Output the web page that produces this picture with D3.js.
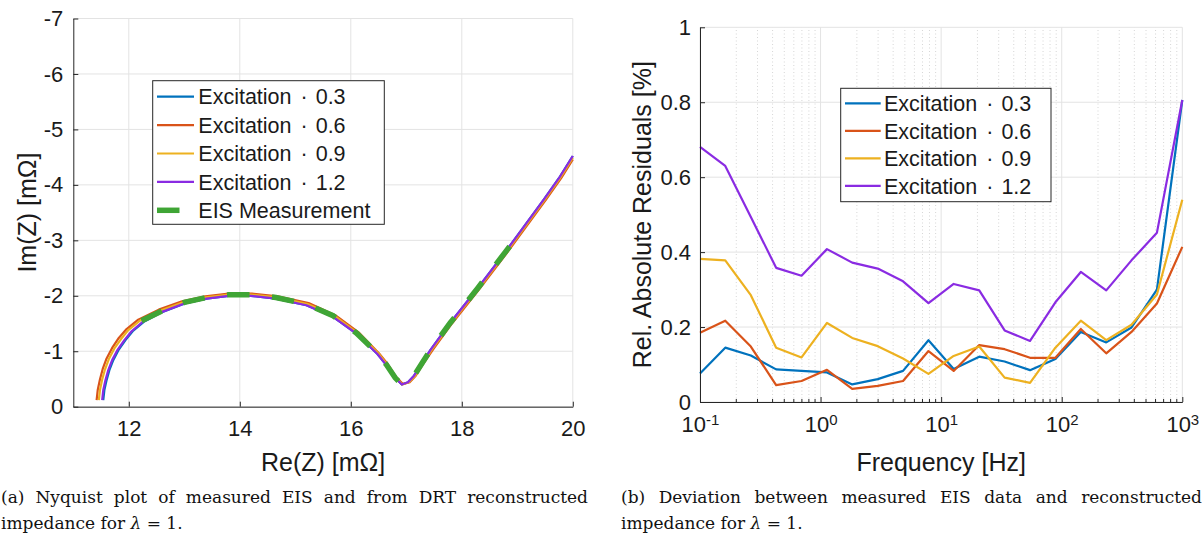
<!DOCTYPE html>
<html><head><meta charset="utf-8">
<script src="https://cdn.jsdelivr.net/npm/d3@7"></script>
<style>
body{margin:0;background:#fff}
svg{display:block}
text{font-family:"Liberation Sans",Arial,sans-serif;fill:#1a1a1a}
.cap text{font-family:"DejaVu Serif","Liberation Serif",serif;fill:#111}
</style>
</head><body>
<svg id="c" width="1204" height="534"></svg>
<script>
// ---------- DATA ----------
const seriesLabels = ["Excitation", "Excitation", "Excitation", "Excitation"];
const seriesFactors = ["0.3", "0.6", "0.9", "1.2"];
const measLabel = "EIS Measurement";
const seriesColors = ["#0072BD", "#D95319", "#EDB120", "#8A2BE2"];
const measColor = "#3FA535";

// (a) Nyquist: Re / Im in mOhm
const re03 = [11.54,11.56,11.60,11.65,11.72,11.82,11.94,12.07,12.27,12.61,13.01,13.40,13.80,14.20,14.65,15.20,15.68,16.10,16.48,16.64,16.80,16.92,17.03,17.14,17.28,17.44,17.79,18.29,18.77,19.10,19.48,19.75,20.00];
const im03 = [-0.12,-0.30,-0.48,-0.66,-0.84,-1.03,-1.20,-1.36,-1.53,-1.71,-1.86,-1.95,-2.00,-2.00,-1.95,-1.83,-1.62,-1.32,-0.95,-0.75,-0.52,-0.40,-0.44,-0.56,-0.78,-1.03,-1.51,-2.14,-2.77,-3.22,-3.74,-4.12,-4.52];
const re06 = [11.42,11.44,11.48,11.53,11.60,11.70,11.82,11.96,12.17,12.54,12.96,13.38,13.80,14.22,14.68,15.24,15.72,16.14,16.51,16.67,16.82,16.94,17.06,17.17,17.31,17.48,17.83,18.33,18.81,19.14,19.52,19.79,20.00];
const im06 = [-0.12,-0.30,-0.49,-0.68,-0.87,-1.06,-1.24,-1.40,-1.57,-1.75,-1.90,-1.99,-2.04,-2.04,-1.99,-1.87,-1.65,-1.34,-0.96,-0.76,-0.53,-0.41,-0.44,-0.56,-0.78,-1.03,-1.51,-2.14,-2.77,-3.22,-3.74,-4.12,-4.46];
const re09 = [11.46,11.48,11.52,11.57,11.64,11.74,11.86,11.99,12.20,12.56,12.97,13.39,13.80,14.21,14.67,15.22,15.70,16.12,16.50,16.66,16.81,16.93,17.05,17.16,17.30,17.46,17.81,18.31,18.79,19.12,19.50,19.77,20.00];
const im09 = [-0.12,-0.30,-0.49,-0.67,-0.86,-1.05,-1.22,-1.38,-1.55,-1.73,-1.88,-1.97,-2.02,-2.02,-1.97,-1.85,-1.64,-1.33,-0.96,-0.75,-0.52,-0.40,-0.44,-0.56,-0.78,-1.03,-1.51,-2.14,-2.77,-3.22,-3.74,-4.12,-4.49];
const re12 = [11.52,11.54,11.58,11.63,11.70,11.80,11.92,12.05,12.25,12.60,13.00,13.40,13.80,14.20,14.65,15.20,15.68,16.10,16.48,16.64,16.80,16.92,17.03,17.14,17.28,17.44,17.79,18.29,18.77,19.10,19.48,19.75,20.00];
const im12 = [-0.12,-0.30,-0.48,-0.66,-0.84,-1.03,-1.20,-1.36,-1.53,-1.71,-1.86,-1.95,-2.00,-2.00,-1.95,-1.83,-1.62,-1.32,-0.95,-0.75,-0.52,-0.40,-0.44,-0.56,-0.78,-1.03,-1.51,-2.14,-2.77,-3.22,-3.74,-4.12,-4.52];
const reEIS = [12.23,12.60,13.00,13.40,13.80,14.20,14.65,15.20,15.68,16.10,16.48,16.64,16.80,16.90,17.03,17.14,17.28,17.44,17.79,18.29,18.77,18.95];
const imEIS = [-1.55,-1.73,-1.88,-1.97,-2.02,-2.02,-1.97,-1.85,-1.64,-1.33,-0.96,-0.76,-0.52,-0.42,-0.45,-0.56,-0.78,-1.03,-1.51,-2.14,-2.77,-3.00];

// (b) residuals [%] vs frequency [Hz]
const freq = [0.1,0.162,0.264,0.428,0.695,1.13,1.83,2.98,4.83,7.85,12.7,20.7,33.6,54.6,88.6,144,234,379,616,1000];
const res03 = [0.076,0.145,0.124,0.087,0.083,0.079,0.047,0.061,0.083,0.165,0.088,0.121,0.108,0.085,0.115,0.187,0.159,0.199,0.300,0.806];
const res06 = [0.185,0.217,0.148,0.045,0.056,0.086,0.035,0.043,0.056,0.136,0.083,0.152,0.141,0.118,0.118,0.195,0.130,0.187,0.263,0.414];
const res09 = [0.382,0.378,0.285,0.145,0.119,0.211,0.171,0.149,0.116,0.075,0.123,0.148,0.065,0.051,0.145,0.217,0.165,0.206,0.287,0.540];
const res12 = [0.681,0.630,0.494,0.358,0.337,0.408,0.372,0.356,0.322,0.264,0.315,0.298,0.191,0.163,0.266,0.347,0.298,0.378,0.452,0.806];

// ticks
const xTicksA = [12,14,16,18,20];
const yTicksA = [0,-1,-2,-3,-4,-5,-6,-7];
const yTickLabelsA = ["0","-1","-2","-3","-4","-5","-6","-7"];
const xTicksB = [0.1,1,10,100,1000];
const xTickExpB = ["-1","0","1","2","3"];
const yTicksB = [0,0.2,0.4,0.6,0.8,1];
const yTickLabelsB = ["0","0.2","0.4","0.6","0.8","1"];

const captionA1 = "(a) Nyquist plot of measured EIS and from DRT reconstructed";
const captionB1 = "(b) Deviation between measured EIS data and reconstructed";

// ---------- DRAW ----------
const svg = d3.select("#c");
const AX = "#262626", GRID = "#e3e3e3";

function styleAxis(g){
  g.select(".domain").attr("stroke", AX).attr("stroke-width", 1);
  g.selectAll(".tick line").attr("stroke", AX);
  g.selectAll(".tick text").attr("font-size", 22).attr("fill", "#1a1a1a")
    .attr("font-family", '"Liberation Sans",Arial,sans-serif');
}

// ===== Panel A =====
const xA = d3.scaleLinear().domain([11, 20]).range([73.3, 572.8]);
const yA = d3.scaleLinear().domain([0, -7]).range([406.7, 18.5]);
const gA = svg.append("g");

gA.append("g").selectAll("line").data(xTicksA).join("line")
  .attr("x1", d => xA(d)).attr("x2", d => xA(d)).attr("y1", yA(0)).attr("y2", yA(-7))
  .attr("stroke", GRID);
gA.append("g").selectAll("line").data(yTicksA).join("line")
  .attr("y1", d => yA(d)).attr("y2", d => yA(d)).attr("x1", xA(11)).attr("x2", xA(20))
  .attr("stroke", GRID);

const lineA = d3.line().x(d => xA(d[0])).y(d => yA(d[1]));
const nyq = [[re03, im03], [re06, im06], [re09, im09], [re12, im12]];
nyq.forEach((s, i) => {
  const pts = s[0].map((r, j) => [r, s[1][j]]);
  gA.append("path").datum(pts).attr("d", lineA).attr("fill", "none")
    .attr("stroke", seriesColors[i]).attr("stroke-width", 2.2).attr("stroke-linejoin", "round");
});
gA.append("path").datum(reEIS.map((r, j) => [r, imEIS[j]])).attr("d", lineA)
  .attr("fill", "none").attr("stroke", measColor).attr("stroke-width", 5.5)
  .attr("stroke-dasharray", "22.5,22.5");

gA.append("g").attr("transform", `translate(0,${yA(0)})`)
  .call(d3.axisBottom(xA).tickValues(xTicksA).tickSizeInner(-5).tickSizeOuter(0).tickPadding(14).tickFormat(d3.format("d")))
  .call(styleAxis);
gA.append("g").attr("transform", `translate(${xA(11)},0)`)
  .call(d3.axisLeft(yA).tickValues(yTicksA).tickSizeInner(-5).tickSizeOuter(0).tickPadding(10)
    .tickFormat((d, i) => yTickLabelsA[i]))
  .call(styleAxis);

gA.append("text").attr("x", (xA(11) + xA(20)) / 2).attr("y", 471).attr("text-anchor", "middle")
  .attr("font-size", 25).text("Re(Z) [mΩ]");
gA.append("text").attr("transform", `translate(36,${(yA(0) + yA(-7)) / 2}) rotate(-90)`)
  .attr("text-anchor", "middle").attr("font-size", 25).text("Im(Z) [mΩ]");

const legA = gA.append("g");
legA.append("rect").attr("x", 152.7).attr("y", 80.7).attr("width", 231.6).attr("height", 143.6)
  .attr("fill", "#fff").attr("stroke", AX).attr("stroke-width", 1);
function legendEntry(g, x0, x1, xt, y, color, width, lab, fac, fs){
  g.append("line").attr("x1", x0).attr("x2", x1).attr("y1", y).attr("y2", y)
    .attr("stroke", color).attr("stroke-width", width);
  const t = g.append("text").attr("x", xt).attr("y", y).attr("dy", "0.36em").attr("font-size", fs);
  t.append("tspan").text(lab);
  if (fac) {
    t.append("tspan").attr("dx", 9).text("·");
    t.append("tspan").attr("dx", 8).text(fac);
  }
}
seriesFactors.forEach((f, i) => legendEntry(legA, 157, 194, 198.3, 96.7 + i * 28.4, seriesColors[i], 2.2, seriesLabels[i], f, 21.5));
legendEntry(legA, 157, 179.5, 198.3, 96.7 + 4 * 28.4, measColor, 5.5, measLabel, null, 21.5);

// ===== Panel B =====
const xB = d3.scaleLog().domain([0.1, 1000]).range([700, 1182.3]);
const yB = d3.scaleLinear().domain([0, 1]).range([402, 27.3]);
const gB = svg.append("g");
const minorB = xB.ticks().filter(v => !xTicksB.some(t => Math.abs(t - v) < 1e-9));

gB.append("g").selectAll("line").data(minorB).join("line")
  .attr("x1", d => xB(d)).attr("x2", d => xB(d)).attr("y1", yB(0)).attr("y2", yB(1))
  .attr("stroke", "#d6d6d6").attr("stroke-dasharray", "1,2.5");
gB.append("g").selectAll("line").data(xTicksB).join("line")
  .attr("x1", d => xB(d)).attr("x2", d => xB(d)).attr("y1", yB(0)).attr("y2", yB(1))
  .attr("stroke", GRID);
gB.append("g").selectAll("line").data(yTicksB).join("line")
  .attr("y1", d => yB(d)).attr("y2", d => yB(d)).attr("x1", xB(0.1)).attr("x2", xB(1000))
  .attr("stroke", GRID);

const lineB = d3.line().x(d => xB(d[0])).y(d => yB(d[1]));
[res03, res06, res09, res12].forEach((s, i) => {
  gB.append("path").datum(freq.map((f, j) => [f, s[j]])).attr("d", lineB).attr("fill", "none")
    .attr("stroke", seriesColors[i]).attr("stroke-width", 2.2).attr("stroke-linejoin", "round");
});

const axB = gB.append("g").attr("transform", `translate(0,${yB(0)})`)
  .call(d3.axisBottom(xB).tickValues(xTicksB).tickSizeInner(-5).tickSizeOuter(0).tickPadding(14).tickFormat(() => ""))
  .call(styleAxis);
axB.selectAll(".tick text").each(function(d, i){
  const t = d3.select(this);
  t.append("tspan").text("10");
  t.append("tspan").attr("dy", "-0.45em").attr("font-size", 15).text(xTickExpB[i]);
});
gB.append("g").selectAll("line").data(minorB).join("line")
  .attr("x1", d => xB(d)).attr("x2", d => xB(d)).attr("y1", yB(0)).attr("y2", yB(0) - 3)
  .attr("stroke", AX);
gB.append("g").attr("transform", `translate(${xB(0.1)},0)`)
  .call(d3.axisLeft(yB).tickValues(yTicksB).tickSizeInner(-5).tickSizeOuter(0).tickPadding(9)
    .tickFormat((d, i) => yTickLabelsB[i]))
  .call(styleAxis);

gB.append("text").attr("x", (xB(0.1) + xB(1000)) / 2).attr("y", 471).attr("text-anchor", "middle")
  .attr("font-size", 25).text("Frequency [Hz]");
gB.append("text").attr("transform", `translate(651,${(yB(0) + yB(1)) / 2}) rotate(-90)`)
  .attr("text-anchor", "middle").attr("font-size", 25).text("Rel. Absolute Residuals [%]");

const legB = gB.append("g");
legB.append("rect").attr("x", 840.7).attr("y", 88.3).attr("width", 210.3).attr("height", 113.4)
  .attr("fill", "#fff").attr("stroke", AX).attr("stroke-width", 1);
seriesFactors.forEach((f, i) => legendEntry(legB, 845, 880.7, 884, 103.3 + i * 27.5, seriesColors[i], 2.2, seriesLabels[i], f, 21.5));

// ===== Captions =====
const cap = svg.append("g").attr("class", "cap");
function justify(text, x0, x1, y, fs){
  const words = text.split(" ");
  const ts = words.map(w => cap.append("text").attr("y", y).attr("font-size", fs).text(w));
  const ws = ts.map(t => t.node().getComputedTextLength());
  const gap = (x1 - x0 - d3.sum(ws)) / (words.length - 1);
  let x = x0;
  ts.forEach((t, i) => { t.attr("x", x); x += ws[i] + gap; });
}
function line2(x0, y, fs){
  const t = cap.append("text").attr("x", x0).attr("y", y).attr("font-size", fs);
  t.append("tspan").text("impedance for ");
  t.append("tspan").attr("font-style", "italic").text("λ");
  t.append("tspan").text(" = 1.");
}
justify(captionA1, 1, 588, 503, 17);
line2(1, 529, 17);
justify(captionB1, 621, 1202, 503, 17);
line2(621, 529, 17);
</script>
</body></html>
